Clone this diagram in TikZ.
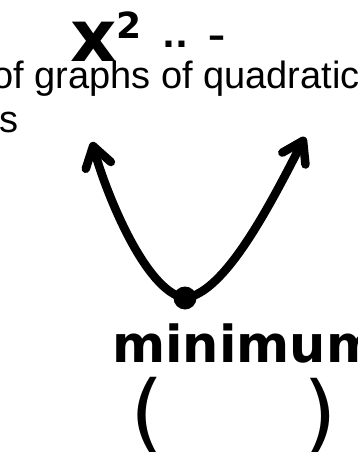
\documentclass[tikz,border=0pt]{standalone}
\usepackage{fontspec}
\usepackage{tikz}
\usetikzlibrary{arrows.meta, positioning}
\setmainfont{Liberation Sans}
\newfontfamily\handfont{DejaVu Sans}

\begin{document}
\begin{tikzpicture}[x=1pt, y=-1pt,
  print/.style={inner sep=0pt, anchor=base west,
                font=\fontsize{38}{44}\selectfont},
  hand/.style={inner sep=0pt, anchor=base west, text=black},
  curve/.style={line width=8.5pt, line cap=round, line join=round,
                -{Straight Barb[length=20pt, width=26pt, round]}},
  dot/.style={circle, fill=black, inner sep=0pt, minimum size=23pt}
]
\useasboundingbox (0,0) rectangle (357,452);
\clip (0,0) rectangle (357,452);

% printed slide text, cut at the left edge
\node[print] (title) at (-8,88)  {of graphs of quadratic};
\node[print] (title2) at (-1,132) {s};

% handwriting
\node[hand, font=\handfont\bfseries\fontsize{72}{72}\selectfont] (xsq) at (70,62)
  {x\raisebox{0.33em}{\fontsize{36}{36}\selectfont 2}};
\node[hand, font=\handfont\bfseries\fontsize{34}{34}\selectfont] (dots) at (162,48) {..\hspace{0.6em}–};

% parabola
\node[dot] (vertex) at (185,298) {};
\coordinate (lefttip)  at (92,142);
\coordinate (righttip) at (305,137);
\draw[curve] (vertex.center) .. controls (145,292) and (105,190) .. (lefttip);
\draw[curve] (vertex.center) .. controls (225,293) and (270,205) .. (righttip);

\node[hand, font=\handfont\bfseries\fontsize{51}{51}\selectfont] (minlabel) at (112,362) {minimum};
\node[hand, anchor=center, font=\handfont\fontsize{86}{86}\selectfont] (lparen) at (147,416) {(};
\node[hand, anchor=center, font=\handfont\fontsize{86}{86}\selectfont] (rparen) at (320,417) {)};

\end{tikzpicture}
\end{document}
